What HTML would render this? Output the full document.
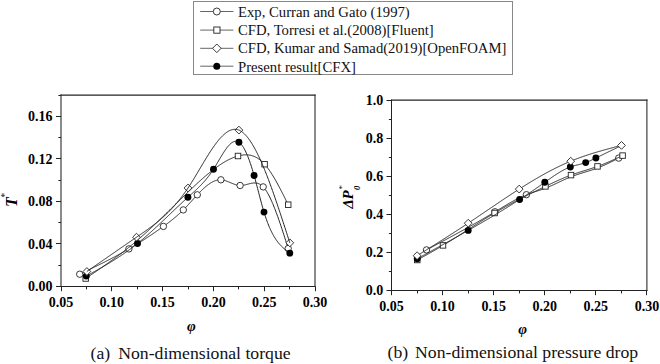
<!DOCTYPE html>
<html><head><meta charset="utf-8"><style>
html,body{margin:0;padding:0;background:#fff;width:660px;height:364px;overflow:hidden}
svg{display:block}
text{font-family:"Liberation Serif",serif}
</style></head><body>
<svg width="660" height="364" viewBox="0 0 660 364">
<rect width="660" height="364" fill="#fff"/>
<rect x="193.5" y="1.5" width="319" height="73" fill="#fff" stroke="#888" stroke-width="1"/>
<line x1="200.2" y1="11.5" x2="233.4" y2="11.5" stroke="#555" stroke-width="0.9"/>
<text x="238" y="16.6" font-family="Liberation Serif" font-size="14.7" fill="#111">Exp, Curran and Gato (1997)</text>
<line x1="200.2" y1="30.1" x2="233.4" y2="30.1" stroke="#555" stroke-width="0.9"/>
<text x="238" y="34.8" font-family="Liberation Serif" font-size="14.7" fill="#111">CFD, Torresi et al.(2008)[Fluent]</text>
<line x1="200.2" y1="48.3" x2="233.4" y2="48.3" stroke="#555" stroke-width="0.9"/>
<text x="238" y="53.4" font-family="Liberation Serif" font-size="14.7" fill="#111">CFD, Kumar and Samad(2019)[OpenFOAM]</text>
<line x1="200.2" y1="66.2" x2="233.4" y2="66.2" stroke="#555" stroke-width="0.9"/>
<text x="238" y="71.9" font-family="Liberation Serif" font-size="14.7" fill="#111">Present result[CFX]</text>
<circle cx="216.8" cy="11.5" r="3.5" fill="#fff" stroke="#222" stroke-width="0.9"/>
<rect x="213.80" y="27.00" width="6.20" height="6.20" fill="#fff" stroke="#222" stroke-width="0.9"/>
<path d="M216.80 44.00L221.10 48.30L216.80 52.60L212.50 48.30Z" fill="#fff" stroke="#222" stroke-width="0.9"/>
<circle cx="216.8" cy="66.2" r="3.5" fill="#000"/>
<line x1="61.0" y1="94.6" x2="61.0" y2="287.0" stroke="#222" stroke-width="1.05" fill="none"/>
<line x1="315.0" y1="94.6" x2="315.0" y2="287.0" stroke="#222" stroke-width="1.05" fill="none"/>
<line x1="60.5" y1="95.1" x2="315.5" y2="95.1" stroke="#222" stroke-width="1.05" fill="none"/>
<line x1="60.5" y1="286.5" x2="315.5" y2="286.5" stroke="#222" stroke-width="1.05" fill="none"/>
<line x1="61.50" y1="286.5" x2="61.50" y2="291.2" stroke="#222" stroke-width="1"/>
<text x="61.00" y="306.5" text-anchor="middle" font-family="Liberation Serif" font-weight="bold" font-size="14" fill="#000">0.05</text>
<line x1="111.50" y1="286.5" x2="111.50" y2="291.2" stroke="#222" stroke-width="1"/>
<text x="111.80" y="306.5" text-anchor="middle" font-family="Liberation Serif" font-weight="bold" font-size="14" fill="#000">0.10</text>
<line x1="162.50" y1="286.5" x2="162.50" y2="291.2" stroke="#222" stroke-width="1"/>
<text x="162.60" y="306.5" text-anchor="middle" font-family="Liberation Serif" font-weight="bold" font-size="14" fill="#000">0.15</text>
<line x1="213.50" y1="286.5" x2="213.50" y2="291.2" stroke="#222" stroke-width="1"/>
<text x="213.40" y="306.5" text-anchor="middle" font-family="Liberation Serif" font-weight="bold" font-size="14" fill="#000">0.20</text>
<line x1="264.50" y1="286.5" x2="264.50" y2="291.2" stroke="#222" stroke-width="1"/>
<text x="264.20" y="306.5" text-anchor="middle" font-family="Liberation Serif" font-weight="bold" font-size="14" fill="#000">0.25</text>
<line x1="315.50" y1="286.5" x2="315.50" y2="291.2" stroke="#222" stroke-width="1"/>
<text x="315.00" y="306.5" text-anchor="middle" font-family="Liberation Serif" font-weight="bold" font-size="14" fill="#000">0.30</text>
<line x1="86.50" y1="286.5" x2="86.50" y2="289.4" stroke="#222" stroke-width="1"/>
<line x1="137.50" y1="286.5" x2="137.50" y2="289.4" stroke="#222" stroke-width="1"/>
<line x1="188.50" y1="286.5" x2="188.50" y2="289.4" stroke="#222" stroke-width="1"/>
<line x1="238.50" y1="286.5" x2="238.50" y2="289.4" stroke="#222" stroke-width="1"/>
<line x1="289.50" y1="286.5" x2="289.50" y2="289.4" stroke="#222" stroke-width="1"/>
<line x1="56.0" y1="286.50" x2="61.0" y2="286.50" stroke="#222" stroke-width="1"/>
<text x="52.5" y="291.30" text-anchor="end" font-family="Liberation Serif" font-weight="bold" font-size="14" fill="#000">0.00</text>
<line x1="56.0" y1="243.50" x2="61.0" y2="243.50" stroke="#222" stroke-width="1"/>
<text x="52.5" y="248.77" text-anchor="end" font-family="Liberation Serif" font-weight="bold" font-size="14" fill="#000">0.04</text>
<line x1="56.0" y1="201.50" x2="61.0" y2="201.50" stroke="#222" stroke-width="1"/>
<text x="52.5" y="206.23" text-anchor="end" font-family="Liberation Serif" font-weight="bold" font-size="14" fill="#000">0.08</text>
<line x1="56.0" y1="158.50" x2="61.0" y2="158.50" stroke="#222" stroke-width="1"/>
<text x="52.5" y="163.70" text-anchor="end" font-family="Liberation Serif" font-weight="bold" font-size="14" fill="#000">0.12</text>
<line x1="56.0" y1="116.50" x2="61.0" y2="116.50" stroke="#222" stroke-width="1"/>
<text x="52.5" y="121.17" text-anchor="end" font-family="Liberation Serif" font-weight="bold" font-size="14" fill="#000">0.16</text>
<line x1="58.4" y1="265.50" x2="61.0" y2="265.50" stroke="#222" stroke-width="1"/>
<line x1="58.4" y1="222.50" x2="61.0" y2="222.50" stroke="#222" stroke-width="1"/>
<line x1="58.4" y1="180.50" x2="61.0" y2="180.50" stroke="#222" stroke-width="1"/>
<line x1="58.4" y1="137.50" x2="61.0" y2="137.50" stroke="#222" stroke-width="1"/>
<line x1="58.4" y1="95.50" x2="61.0" y2="95.50" stroke="#222" stroke-width="1"/>
<line x1="391.5" y1="99.6" x2="391.5" y2="291.0" stroke="#222" stroke-width="1.05" fill="none"/>
<line x1="646.9" y1="99.6" x2="646.9" y2="291.0" stroke="#222" stroke-width="1.05" fill="none"/>
<line x1="391.0" y1="100.1" x2="647.4" y2="100.1" stroke="#222" stroke-width="1.05" fill="none"/>
<line x1="391.0" y1="290.5" x2="647.4" y2="290.5" stroke="#222" stroke-width="1.05" fill="none"/>
<line x1="391.50" y1="290.5" x2="391.50" y2="295.2" stroke="#222" stroke-width="1"/>
<text x="391.50" y="310.5" text-anchor="middle" font-family="Liberation Serif" font-weight="bold" font-size="14" fill="#000">0.05</text>
<line x1="442.50" y1="290.5" x2="442.50" y2="295.2" stroke="#222" stroke-width="1"/>
<text x="442.58" y="310.5" text-anchor="middle" font-family="Liberation Serif" font-weight="bold" font-size="14" fill="#000">0.10</text>
<line x1="493.50" y1="290.5" x2="493.50" y2="295.2" stroke="#222" stroke-width="1"/>
<text x="493.66" y="310.5" text-anchor="middle" font-family="Liberation Serif" font-weight="bold" font-size="14" fill="#000">0.15</text>
<line x1="544.50" y1="290.5" x2="544.50" y2="295.2" stroke="#222" stroke-width="1"/>
<text x="544.74" y="310.5" text-anchor="middle" font-family="Liberation Serif" font-weight="bold" font-size="14" fill="#000">0.20</text>
<line x1="595.50" y1="290.5" x2="595.50" y2="295.2" stroke="#222" stroke-width="1"/>
<text x="595.82" y="310.5" text-anchor="middle" font-family="Liberation Serif" font-weight="bold" font-size="14" fill="#000">0.25</text>
<line x1="646.50" y1="290.5" x2="646.50" y2="295.2" stroke="#222" stroke-width="1"/>
<text x="646.90" y="310.5" text-anchor="middle" font-family="Liberation Serif" font-weight="bold" font-size="14" fill="#000">0.30</text>
<line x1="417.50" y1="290.5" x2="417.50" y2="293.4" stroke="#222" stroke-width="1"/>
<line x1="468.50" y1="290.5" x2="468.50" y2="293.4" stroke="#222" stroke-width="1"/>
<line x1="519.50" y1="290.5" x2="519.50" y2="293.4" stroke="#222" stroke-width="1"/>
<line x1="570.50" y1="290.5" x2="570.50" y2="293.4" stroke="#222" stroke-width="1"/>
<line x1="621.50" y1="290.5" x2="621.50" y2="293.4" stroke="#222" stroke-width="1"/>
<line x1="386.5" y1="290.50" x2="391.5" y2="290.50" stroke="#222" stroke-width="1"/>
<text x="383.2" y="295.30" text-anchor="end" font-family="Liberation Serif" font-weight="bold" font-size="14" fill="#000">0.0</text>
<line x1="386.5" y1="252.50" x2="391.5" y2="252.50" stroke="#222" stroke-width="1"/>
<text x="383.2" y="257.22" text-anchor="end" font-family="Liberation Serif" font-weight="bold" font-size="14" fill="#000">0.2</text>
<line x1="386.5" y1="214.50" x2="391.5" y2="214.50" stroke="#222" stroke-width="1"/>
<text x="383.2" y="219.14" text-anchor="end" font-family="Liberation Serif" font-weight="bold" font-size="14" fill="#000">0.4</text>
<line x1="386.5" y1="176.50" x2="391.5" y2="176.50" stroke="#222" stroke-width="1"/>
<text x="383.2" y="181.06" text-anchor="end" font-family="Liberation Serif" font-weight="bold" font-size="14" fill="#000">0.6</text>
<line x1="386.5" y1="138.50" x2="391.5" y2="138.50" stroke="#222" stroke-width="1"/>
<text x="383.2" y="142.98" text-anchor="end" font-family="Liberation Serif" font-weight="bold" font-size="14" fill="#000">0.8</text>
<line x1="386.5" y1="100.50" x2="391.5" y2="100.50" stroke="#222" stroke-width="1"/>
<text x="383.2" y="104.90" text-anchor="end" font-family="Liberation Serif" font-weight="bold" font-size="14" fill="#000">1.0</text>
<line x1="388.9" y1="271.50" x2="391.5" y2="271.50" stroke="#222" stroke-width="1"/>
<line x1="388.9" y1="233.50" x2="391.5" y2="233.50" stroke="#222" stroke-width="1"/>
<line x1="388.9" y1="195.50" x2="391.5" y2="195.50" stroke="#222" stroke-width="1"/>
<line x1="388.9" y1="157.50" x2="391.5" y2="157.50" stroke="#222" stroke-width="1"/>
<line x1="388.9" y1="119.50" x2="391.5" y2="119.50" stroke="#222" stroke-width="1"/>
<path d="M79.70 274.20L80.20 273.96L80.70 273.72L81.20 273.48L81.70 273.24L82.20 273.00L82.70 272.76L83.20 272.52L83.70 272.28L84.20 272.04L84.70 271.80L85.20 271.55L85.70 271.31L86.20 271.07L86.70 270.83L87.20 270.59L87.70 270.35L88.20 270.11L88.70 269.86L89.20 269.62L89.70 269.38L90.20 269.14L90.70 268.90L91.20 268.65L91.70 268.41L92.20 268.17L92.70 267.92L93.20 267.68L93.70 267.43L94.20 267.19L94.70 266.94L95.20 266.70L95.70 266.45L96.20 266.21L96.70 265.96L97.20 265.72L97.70 265.47L98.20 265.22L98.70 264.97L99.20 264.73L99.70 264.48L100.20 264.23L100.70 263.98L101.20 263.73L101.70 263.48L102.20 263.23L102.70 262.98L103.20 262.73L103.70 262.47L104.20 262.22L104.70 261.97L105.20 261.71L105.70 261.46L106.20 261.21L106.70 260.95L107.20 260.70L107.70 260.44L108.20 260.18L108.70 259.92L109.20 259.67L109.70 259.41L110.20 259.15L110.70 258.89L111.20 258.63L111.70 258.37L112.20 258.10L112.70 257.84L113.20 257.58L113.70 257.31L114.20 257.05L114.70 256.78L115.20 256.52L115.70 256.25L116.20 255.98L116.70 255.71L117.20 255.45L117.70 255.18L118.20 254.90L118.70 254.63L119.20 254.36L119.70 254.09L120.20 253.81L120.70 253.54L121.20 253.26L121.70 252.99L122.20 252.71L122.70 252.43L123.20 252.15L123.70 251.87L124.20 251.59L124.70 251.31L125.20 251.02L125.70 250.74L126.20 250.46L126.70 250.17L127.20 249.88L127.70 249.59L128.20 249.31L128.70 249.02L128.90 248.90L129.40 248.61L129.90 248.32L130.40 248.02L130.90 247.73L131.40 247.43L131.90 247.14L132.40 246.84L132.90 246.54L133.40 246.24L133.90 245.94L134.40 245.64L134.90 245.34L135.40 245.03L135.90 244.73L136.40 244.42L136.90 244.12L137.40 243.81L137.90 243.50L138.40 243.19L138.90 242.88L139.40 242.57L139.90 242.26L140.40 241.94L140.90 241.63L141.40 241.31L141.90 240.99L142.40 240.68L142.90 240.36L143.40 240.04L143.90 239.72L144.40 239.39L144.90 239.07L145.40 238.75L145.90 238.42L146.40 238.10L146.90 237.77L147.40 237.44L147.90 237.11L148.40 236.78L148.90 236.45L149.40 236.12L149.90 235.78L150.40 235.45L150.90 235.11L151.40 234.78L151.90 234.44L152.40 234.10L152.90 233.76L153.40 233.42L153.90 233.08L154.40 232.74L154.90 232.40L155.40 232.05L155.90 231.71L156.40 231.36L156.90 231.01L157.40 230.66L157.90 230.31L158.40 229.96L158.90 229.61L159.40 229.26L159.90 228.90L160.40 228.55L160.90 228.19L161.40 227.84L161.90 227.48L162.40 227.12L162.90 226.76L163.40 226.40L163.90 226.04L164.40 225.68L164.90 225.31L165.40 224.95L165.90 224.58L166.40 224.21L166.90 223.84L167.40 223.47L167.90 223.09L168.40 222.71L168.90 222.34L169.40 221.95L169.90 221.57L170.40 221.18L170.90 220.80L171.40 220.40L171.90 220.01L172.40 219.61L172.90 219.21L173.40 218.80L173.90 218.39L174.40 217.98L174.90 217.57L175.40 217.15L175.90 216.72L176.40 216.30L176.90 215.86L177.40 215.43L177.90 214.99L178.40 214.54L178.90 214.09L179.40 213.63L179.90 213.17L180.40 212.71L180.90 212.24L181.40 211.76L181.90 211.28L182.40 210.79L182.90 210.30L183.30 209.90L183.80 209.40L184.30 208.89L184.80 208.37L185.30 207.85L185.80 207.33L186.30 206.80L186.80 206.27L187.30 205.73L187.80 205.19L188.30 204.65L188.80 204.11L189.30 203.56L189.80 203.01L190.30 202.46L190.80 201.91L191.30 201.36L191.80 200.81L192.30 200.25L192.80 199.70L193.30 199.15L193.80 198.60L194.30 198.05L194.80 197.50L195.30 196.96L195.80 196.41L196.30 195.87L196.80 195.33L197.30 194.80L197.80 194.27L198.30 193.74L198.80 193.22L199.30 192.70L199.80 192.19L200.30 191.68L200.80 191.18L201.30 190.69L201.80 190.20L202.30 189.72L202.80 189.24L203.30 188.78L203.80 188.32L204.30 187.87L204.80 187.42L205.30 186.99L205.80 186.56L206.30 186.15L206.80 185.74L207.30 185.35L207.80 184.96L208.30 184.59L208.80 184.23L209.30 183.88L209.80 183.54L210.30 183.21L210.80 182.90L211.30 182.60L211.80 182.31L212.30 182.04L212.80 181.78L213.30 181.53L213.80 181.30L214.30 181.08L214.80 180.88L215.30 180.70L215.80 180.53L216.30 180.38L216.80 180.24L217.30 180.12L217.80 180.02L218.30 179.94L218.80 179.87L219.30 179.82L219.80 179.79L220.30 179.79L220.80 179.80L220.90 179.80L221.40 179.83L221.90 179.89L222.40 179.96L222.90 180.04L223.40 180.15L223.90 180.26L224.40 180.39L224.90 180.54L225.40 180.69L225.90 180.86L226.40 181.03L226.90 181.22L227.40 181.41L227.90 181.60L228.40 181.80L228.90 182.01L229.40 182.22L229.90 182.43L230.40 182.64L230.90 182.86L231.40 183.07L231.90 183.28L232.40 183.48L232.90 183.69L233.40 183.88L233.90 184.07L234.40 184.26L234.90 184.43L235.40 184.60L235.90 184.75L236.40 184.90L236.90 185.03L237.40 185.14L237.90 185.25L238.40 185.33L238.90 185.41L239.40 185.46L239.90 185.49L240.10 185.50L240.60 185.51L241.10 185.49L241.60 185.46L242.10 185.42L242.60 185.36L243.10 185.28L243.60 185.19L244.10 185.10L244.60 184.99L245.10 184.88L245.60 184.75L246.10 184.63L246.60 184.50L247.10 184.36L247.60 184.23L248.10 184.09L248.60 183.96L249.10 183.83L249.60 183.70L250.10 183.58L250.60 183.47L251.10 183.36L251.60 183.26L252.10 183.18L252.60 183.10L253.10 183.04L253.60 183.00L254.10 182.97L254.60 182.96L255.10 182.97L255.60 183.00L256.10 183.05L256.60 183.12L257.10 183.22L257.60 183.34L258.10 183.49L258.60 183.67L259.10 183.88L259.60 184.12L260.10 184.40L260.60 184.70L261.10 185.05L261.60 185.43L262.10 185.84L262.60 186.30L263.10 186.80L263.20 186.90L263.70 187.45L264.20 188.04L264.70 188.67L265.20 189.34L265.70 190.04L266.20 190.79L266.70 191.57L267.20 192.39L267.70 193.25L268.20 194.14L268.70 195.06L269.20 196.02L269.70 197.01L270.20 198.03L270.70 199.08L271.20 200.16L271.70 201.27L272.20 202.41L272.70 203.57L273.20 204.77L273.70 205.98L274.20 207.22L274.70 208.49L275.20 209.78L275.70 211.08L276.20 212.42L276.70 213.77L277.20 215.14L277.70 216.53L278.20 217.93L278.70 219.36L279.20 220.80L279.70 222.25L280.20 223.72L280.70 225.20L281.20 226.70L281.70 228.21L282.20 229.73L282.70 231.25L283.20 232.79L283.70 234.34L284.20 235.89L284.70 237.45L285.20 239.02L285.70 240.59L286.20 242.17L286.70 243.75L287.20 245.33L287.70 246.92L288.20 248.50" stroke="#222" stroke-width="1" fill="none"/>
<circle cx="79.7" cy="274.2" r="3.2" fill="#fff" stroke="#222" stroke-width="0.9"/>
<circle cx="128.9" cy="248.9" r="3.2" fill="#fff" stroke="#222" stroke-width="0.9"/>
<circle cx="163.4" cy="226.4" r="3.2" fill="#fff" stroke="#222" stroke-width="0.9"/>
<circle cx="183.3" cy="209.9" r="3.2" fill="#fff" stroke="#222" stroke-width="0.9"/>
<circle cx="197.3" cy="194.8" r="3.2" fill="#fff" stroke="#222" stroke-width="0.9"/>
<circle cx="220.9" cy="179.8" r="3.2" fill="#fff" stroke="#222" stroke-width="0.9"/>
<circle cx="240.1" cy="185.5" r="3.2" fill="#fff" stroke="#222" stroke-width="0.9"/>
<circle cx="263.2" cy="186.9" r="3.2" fill="#fff" stroke="#222" stroke-width="0.9"/>
<circle cx="288.2" cy="248.5" r="3.2" fill="#fff" stroke="#222" stroke-width="0.9"/>
<path d="M85.70 278.50L86.20 278.16L86.70 277.82L87.20 277.48L87.70 277.14L88.20 276.80L88.70 276.46L89.20 276.12L89.70 275.78L90.20 275.44L90.70 275.10L91.20 274.76L91.70 274.41L92.20 274.07L92.70 273.73L93.20 273.39L93.70 273.05L94.20 272.71L94.70 272.36L95.20 272.02L95.70 271.68L96.20 271.33L96.70 270.99L97.20 270.65L97.70 270.30L98.20 269.96L98.70 269.61L99.20 269.26L99.70 268.92L100.20 268.57L100.70 268.22L101.20 267.88L101.70 267.53L102.20 267.18L102.70 266.83L103.20 266.48L103.70 266.13L104.20 265.78L104.70 265.43L105.20 265.07L105.70 264.72L106.20 264.37L106.70 264.01L107.20 263.66L107.70 263.30L108.20 262.94L108.70 262.59L109.20 262.23L109.70 261.87L110.20 261.51L110.70 261.15L111.20 260.79L111.70 260.43L112.20 260.06L112.70 259.70L113.20 259.33L113.70 258.97L114.20 258.60L114.70 258.23L115.20 257.86L115.70 257.50L116.20 257.12L116.70 256.75L117.20 256.38L117.70 256.01L118.20 255.63L118.70 255.26L119.20 254.88L119.70 254.50L120.20 254.12L120.70 253.74L121.20 253.36L121.70 252.98L122.20 252.59L122.70 252.21L123.20 251.82L123.70 251.43L124.20 251.04L124.70 250.65L125.20 250.26L125.70 249.87L126.20 249.47L126.70 249.08L127.20 248.68L127.70 248.28L128.20 247.88L128.70 247.48L129.20 247.08L129.70 246.68L130.20 246.27L130.70 245.86L131.20 245.45L131.70 245.04L132.20 244.63L132.70 244.22L133.20 243.81L133.70 243.39L134.20 242.97L134.70 242.55L135.20 242.13L135.70 241.71L136.20 241.28L136.70 240.86L137.00 240.60L137.50 240.17L138.00 239.74L138.50 239.31L139.00 238.87L139.50 238.44L140.00 238.00L140.50 237.56L141.00 237.12L141.50 236.68L142.00 236.24L142.50 235.79L143.00 235.35L143.50 234.90L144.00 234.45L144.50 234.00L145.00 233.55L145.50 233.09L146.00 232.64L146.50 232.18L147.00 231.73L147.50 231.27L148.00 230.81L148.50 230.35L149.00 229.88L149.50 229.42L150.00 228.96L150.50 228.49L151.00 228.03L151.50 227.56L152.00 227.09L152.50 226.62L153.00 226.15L153.50 225.68L154.00 225.20L154.50 224.73L155.00 224.26L155.50 223.78L156.00 223.31L156.50 222.83L157.00 222.35L157.50 221.87L158.00 221.39L158.50 220.91L159.00 220.43L159.50 219.95L160.00 219.47L160.50 218.99L161.00 218.50L161.50 218.02L162.00 217.53L162.50 217.05L163.00 216.56L163.50 216.08L164.00 215.59L164.50 215.10L165.00 214.62L165.50 214.13L166.00 213.64L166.50 213.15L167.00 212.66L167.50 212.17L168.00 211.68L168.50 211.19L169.00 210.70L169.50 210.21L170.00 209.72L170.50 209.23L171.00 208.74L171.50 208.25L172.00 207.76L172.50 207.27L173.00 206.77L173.50 206.28L174.00 205.79L174.50 205.30L175.00 204.81L175.50 204.32L176.00 203.83L176.50 203.33L177.00 202.84L177.50 202.35L178.00 201.86L178.50 201.37L179.00 200.88L179.50 200.39L180.00 199.90L180.50 199.41L181.00 198.92L181.50 198.43L182.00 197.94L182.50 197.46L183.00 196.97L183.50 196.48L184.00 195.99L184.50 195.51L185.00 195.02L185.50 194.54L186.00 194.05L186.50 193.57L187.00 193.08L187.50 192.60L188.00 192.12L188.50 191.64L189.00 191.15L189.50 190.67L190.00 190.19L190.50 189.72L191.00 189.24L191.50 188.76L192.00 188.29L192.50 187.81L193.00 187.34L193.50 186.87L194.00 186.39L194.50 185.92L195.00 185.46L195.50 184.99L196.00 184.52L196.50 184.06L197.00 183.60L197.50 183.14L198.00 182.68L198.50 182.22L199.00 181.76L199.50 181.31L200.00 180.85L200.50 180.40L201.00 179.96L201.50 179.51L202.00 179.06L202.50 178.62L203.00 178.18L203.50 177.74L204.00 177.31L204.50 176.87L205.00 176.44L205.50 176.01L206.00 175.58L206.50 175.16L207.00 174.74L207.50 174.32L208.00 173.90L208.50 173.49L209.00 173.07L209.50 172.67L210.00 172.26L210.50 171.86L211.00 171.46L211.50 171.06L212.00 170.66L212.50 170.27L213.00 169.89L213.50 169.50L214.00 169.12L214.50 168.74L215.00 168.36L215.50 167.99L216.00 167.62L216.50 167.26L217.00 166.90L217.50 166.54L218.00 166.19L218.50 165.84L219.00 165.49L219.50 165.15L220.00 164.81L220.50 164.48L221.00 164.15L221.50 163.82L222.00 163.50L222.50 163.19L223.00 162.87L223.50 162.57L224.00 162.26L224.50 161.97L225.00 161.67L225.50 161.39L226.00 161.10L226.50 160.83L227.00 160.55L227.50 160.29L228.00 160.02L228.50 159.77L229.00 159.51L229.50 159.27L230.00 159.03L230.50 158.79L231.00 158.56L231.50 158.34L232.00 158.12L232.50 157.91L233.00 157.71L233.50 157.51L234.00 157.31L234.50 157.13L235.00 156.95L235.50 156.77L236.00 156.60L236.50 156.44L237.00 156.29L237.50 156.14L238.00 156.00L238.50 155.87L239.00 155.74L239.50 155.62L240.00 155.51L240.50 155.40L241.00 155.31L241.50 155.22L242.00 155.14L242.50 155.07L243.00 155.00L243.50 154.95L244.00 154.91L244.50 154.87L245.00 154.85L245.50 154.84L246.00 154.83L246.50 154.84L247.00 154.86L247.50 154.89L248.00 154.93L248.50 154.98L249.00 155.04L249.50 155.12L250.00 155.20L250.50 155.30L251.00 155.42L251.50 155.54L252.00 155.68L252.50 155.83L253.00 156.00L253.50 156.18L254.00 156.37L254.50 156.58L255.00 156.80L255.50 157.04L256.00 157.29L256.50 157.56L257.00 157.84L257.50 158.14L258.00 158.45L258.50 158.78L259.00 159.13L259.50 159.49L260.00 159.87L260.50 160.27L261.00 160.68L261.50 161.12L262.00 161.56L262.50 162.03L263.00 162.52L263.50 163.02L264.00 163.55L264.50 164.09L264.60 164.20L265.10 164.77L265.60 165.35L266.10 165.95L266.60 166.57L267.10 167.21L267.60 167.87L268.10 168.54L268.60 169.23L269.10 169.93L269.60 170.65L270.10 171.38L270.60 172.13L271.10 172.90L271.60 173.68L272.10 174.47L272.60 175.27L273.10 176.09L273.60 176.92L274.10 177.76L274.60 178.61L275.10 179.48L275.60 180.35L276.10 181.24L276.60 182.13L277.10 183.04L277.60 183.95L278.10 184.87L278.60 185.80L279.10 186.74L279.60 187.69L280.10 188.64L280.60 189.60L281.10 190.56L281.60 191.53L282.10 192.51L282.60 193.49L283.10 194.48L283.60 195.47L284.10 196.46L284.60 197.46L285.10 198.46L285.60 199.46L286.10 200.47L286.60 201.47L287.10 202.48L287.60 203.49L288.10 204.50L288.20 204.70" stroke="#222" stroke-width="1" fill="none"/>
<rect x="82.95" y="275.75" width="5.50" height="5.50" fill="#fff" stroke="#222" stroke-width="0.9"/>
<rect x="235.25" y="153.25" width="5.50" height="5.50" fill="#fff" stroke="#222" stroke-width="0.9"/>
<rect x="261.85" y="161.45" width="5.50" height="5.50" fill="#fff" stroke="#222" stroke-width="0.9"/>
<rect x="285.45" y="201.95" width="5.50" height="5.50" fill="#fff" stroke="#222" stroke-width="0.9"/>
<path d="M86.30 276.10L86.80 275.82L87.30 275.55L87.80 275.27L88.30 274.99L88.80 274.71L89.30 274.44L89.80 274.16L90.30 273.88L90.80 273.60L91.30 273.32L91.80 273.05L92.30 272.77L92.80 272.49L93.30 272.21L93.80 271.93L94.30 271.65L94.80 271.37L95.30 271.09L95.80 270.81L96.30 270.53L96.80 270.24L97.30 269.96L97.80 269.68L98.30 269.39L98.80 269.11L99.30 268.82L99.80 268.54L100.30 268.25L100.80 267.97L101.30 267.68L101.80 267.39L102.30 267.10L102.80 266.81L103.30 266.52L103.80 266.23L104.30 265.94L104.80 265.65L105.30 265.35L105.80 265.06L106.30 264.76L106.80 264.47L107.30 264.17L107.80 263.87L108.30 263.57L108.80 263.27L109.30 262.97L109.80 262.67L110.30 262.36L110.80 262.06L111.30 261.75L111.80 261.44L112.30 261.14L112.80 260.83L113.30 260.51L113.80 260.20L114.30 259.89L114.80 259.57L115.30 259.26L115.80 258.94L116.30 258.62L116.80 258.30L117.30 257.98L117.80 257.66L118.30 257.33L118.80 257.01L119.30 256.68L119.80 256.35L120.30 256.02L120.80 255.69L121.30 255.35L121.80 255.02L122.30 254.68L122.80 254.34L123.30 254.00L123.80 253.66L124.30 253.31L124.80 252.97L125.30 252.62L125.80 252.27L126.30 251.92L126.80 251.56L127.30 251.21L127.80 250.85L128.30 250.49L128.80 250.13L129.30 249.77L129.80 249.40L130.30 249.03L130.80 248.66L131.30 248.29L131.80 247.92L132.30 247.54L132.80 247.16L133.30 246.78L133.80 246.40L134.30 246.02L134.80 245.63L135.30 245.24L135.80 244.85L136.30 244.45L136.80 244.06L137.30 243.66L137.50 243.50L138.00 243.10L138.50 242.69L139.00 242.29L139.50 241.88L140.00 241.47L140.50 241.05L141.00 240.64L141.50 240.22L142.00 239.80L142.50 239.38L143.00 238.95L143.50 238.53L144.00 238.10L144.50 237.67L145.00 237.24L145.50 236.80L146.00 236.37L146.50 235.93L147.00 235.49L147.50 235.05L148.00 234.61L148.50 234.17L149.00 233.72L149.50 233.27L150.00 232.83L150.50 232.38L151.00 231.92L151.50 231.47L152.00 231.02L152.50 230.56L153.00 230.10L153.50 229.65L154.00 229.19L154.50 228.73L155.00 228.27L155.50 227.80L156.00 227.34L156.50 226.87L157.00 226.41L157.50 225.94L158.00 225.47L158.50 225.01L159.00 224.54L159.50 224.07L160.00 223.60L160.50 223.12L161.00 222.65L161.50 222.18L162.00 221.71L162.50 221.23L163.00 220.76L163.50 220.28L164.00 219.81L164.50 219.33L165.00 218.86L165.50 218.38L166.00 217.90L166.50 217.43L167.00 216.95L167.50 216.47L168.00 215.99L168.50 215.52L169.00 215.04L169.50 214.56L170.00 214.08L170.50 213.61L171.00 213.13L171.50 212.65L172.00 212.17L172.50 211.70L173.00 211.22L173.50 210.74L174.00 210.27L174.50 209.79L175.00 209.31L175.50 208.84L176.00 208.36L176.50 207.89L177.00 207.42L177.50 206.94L178.00 206.47L178.50 206.00L179.00 205.53L179.50 205.06L180.00 204.59L180.50 204.12L181.00 203.65L181.50 203.18L182.00 202.72L182.50 202.25L183.00 201.79L183.50 201.33L184.00 200.86L184.50 200.40L185.00 199.94L185.50 199.48L186.00 199.03L186.50 198.57L187.00 198.12L187.50 197.66L187.90 197.30L188.40 196.85L188.90 196.40L189.40 195.95L189.90 195.50L190.40 195.05L190.90 194.60L191.40 194.15L191.90 193.70L192.40 193.25L192.90 192.80L193.40 192.35L193.90 191.89L194.40 191.43L194.90 190.97L195.40 190.51L195.90 190.04L196.40 189.57L196.90 189.10L197.40 188.62L197.90 188.14L198.40 187.65L198.90 187.16L199.40 186.66L199.90 186.16L200.40 185.65L200.90 185.14L201.40 184.61L201.90 184.09L202.40 183.55L202.90 183.01L203.40 182.46L203.90 181.90L204.40 181.33L204.90 180.76L205.40 180.17L205.90 179.58L206.40 178.97L206.90 178.36L207.40 177.74L207.90 177.10L208.40 176.46L208.90 175.80L209.40 175.14L209.90 174.46L210.40 173.77L210.90 173.07L211.40 172.35L211.90 171.62L212.40 170.88L212.90 170.12L213.40 169.36L213.50 169.20L214.00 168.41L214.50 167.62L215.00 166.81L215.50 165.99L216.00 165.16L216.50 164.32L217.00 163.48L217.50 162.64L218.00 161.79L218.50 160.94L219.00 160.09L219.50 159.24L220.00 158.40L220.50 157.55L221.00 156.72L221.50 155.89L222.00 155.07L222.50 154.26L223.00 153.46L223.50 152.67L224.00 151.90L224.50 151.14L225.00 150.40L225.50 149.68L226.00 148.98L226.50 148.30L227.00 147.64L227.50 147.00L228.00 146.40L228.50 145.81L229.00 145.26L229.50 144.73L230.00 144.24L230.50 143.78L231.00 143.35L231.50 142.96L232.00 142.60L232.50 142.29L233.00 142.01L233.50 141.77L234.00 141.58L234.50 141.43L235.00 141.32L235.50 141.26L236.00 141.25L236.50 141.29L237.00 141.38L237.50 141.52L238.00 141.71L238.50 141.96L238.90 142.20L239.40 142.55L239.90 142.96L240.40 143.43L240.90 143.95L241.40 144.52L241.90 145.15L242.40 145.83L242.90 146.57L243.40 147.36L243.90 148.20L244.40 149.09L244.90 150.03L245.40 151.02L245.90 152.06L246.40 153.15L246.90 154.28L247.40 155.46L247.90 156.69L248.40 157.97L248.90 159.28L249.40 160.65L249.90 162.05L250.40 163.50L250.90 165.00L251.40 166.53L251.90 168.10L252.40 169.72L252.90 171.37L253.40 173.07L253.90 174.80L254.10 175.50L254.60 177.28L255.10 179.10L255.60 180.94L256.10 182.81L256.60 184.70L257.10 186.61L257.60 188.52L258.10 190.44L258.60 192.37L259.10 194.29L259.60 196.20L260.10 198.11L260.60 200.00L261.10 201.87L261.60 203.71L262.10 205.53L262.60 207.32L263.10 209.06L263.60 210.77L264.00 212.10L264.50 213.72L265.00 215.29L265.50 216.82L266.00 218.30L266.50 219.73L267.00 221.12L267.50 222.46L268.00 223.76L268.50 225.02L269.00 226.24L269.50 227.42L270.00 228.56L270.50 229.66L271.00 230.73L271.50 231.75L272.00 232.75L272.50 233.71L273.00 234.63L273.50 235.53L274.00 236.39L274.50 237.22L275.00 238.03L275.50 238.80L276.00 239.55L276.50 240.27L277.00 240.97L277.50 241.64L278.00 242.29L278.50 242.91L279.00 243.51L279.50 244.10L280.00 244.66L280.50 245.20L281.00 245.73L281.50 246.24L282.00 246.73L282.50 247.21L283.00 247.68L283.50 248.13L284.00 248.57L284.50 249.00L285.00 249.41L285.50 249.82L286.00 250.22L286.50 250.62L287.00 251.00L287.50 251.39L288.00 251.76L288.50 252.14L289.00 252.51L289.50 252.88L289.80 253.10" stroke="#222" stroke-width="1" fill="none"/>
<circle cx="86.3" cy="276.1" r="3.45" fill="#000"/>
<circle cx="137.5" cy="243.5" r="3.45" fill="#000"/>
<circle cx="187.9" cy="197.3" r="3.45" fill="#000"/>
<circle cx="213.5" cy="169.2" r="3.45" fill="#000"/>
<circle cx="238.9" cy="142.2" r="3.45" fill="#000"/>
<circle cx="254.1" cy="175.5" r="3.45" fill="#000"/>
<circle cx="264.0" cy="212.1" r="3.45" fill="#000"/>
<circle cx="289.8" cy="253.1" r="3.45" fill="#000"/>
<path d="M86.90 267.60L90.80 271.50L86.90 275.40L83.00 271.50Z" fill="#fff" stroke="#222" stroke-width="0.9"/>
<path d="M136.50 233.30L140.40 237.20L136.50 241.10L132.60 237.20Z" fill="#fff" stroke="#222" stroke-width="0.9"/>
<path d="M188.00 184.10L191.90 188.00L188.00 191.90L184.10 188.00Z" fill="#fff" stroke="#222" stroke-width="0.9"/>
<path d="M238.90 126.20L242.80 130.10L238.90 134.00L235.00 130.10Z" fill="#fff" stroke="#222" stroke-width="0.9"/>
<path d="M289.80 238.90L293.70 242.80L289.80 246.70L285.90 242.80Z" fill="#fff" stroke="#222" stroke-width="0.9"/>
<path d="M86.90 271.50L87.40 271.15L87.90 270.81L88.40 270.46L88.90 270.11L89.40 269.76L89.90 269.42L90.40 269.07L90.90 268.72L91.40 268.38L91.90 268.03L92.40 267.68L92.90 267.34L93.40 266.99L93.90 266.64L94.40 266.29L94.90 265.95L95.40 265.60L95.90 265.25L96.40 264.91L96.90 264.56L97.40 264.21L97.90 263.87L98.40 263.52L98.90 263.17L99.40 262.83L99.90 262.48L100.40 262.13L100.90 261.79L101.40 261.44L101.90 261.09L102.40 260.75L102.90 260.40L103.40 260.05L103.90 259.71L104.40 259.36L104.90 259.01L105.40 258.67L105.90 258.32L106.40 257.97L106.90 257.63L107.40 257.28L107.90 256.93L108.40 256.59L108.90 256.24L109.40 255.89L109.90 255.55L110.40 255.20L110.90 254.86L111.40 254.51L111.90 254.16L112.40 253.82L112.90 253.47L113.40 253.13L113.90 252.78L114.40 252.43L114.90 252.09L115.40 251.74L115.90 251.40L116.40 251.05L116.90 250.71L117.40 250.36L117.90 250.01L118.40 249.67L118.90 249.32L119.40 248.98L119.90 248.63L120.40 248.29L120.90 247.94L121.40 247.60L121.90 247.25L122.40 246.91L122.90 246.56L123.40 246.22L123.90 245.87L124.40 245.53L124.90 245.18L125.40 244.84L125.90 244.49L126.40 244.15L126.90 243.80L127.40 243.46L127.90 243.11L128.40 242.77L128.90 242.43L129.40 242.08L129.90 241.74L130.40 241.39L130.90 241.05L131.40 240.70L131.90 240.36L132.40 240.02L132.90 239.67L133.40 239.33L133.90 238.99L134.40 238.64L134.90 238.30L135.40 237.96L135.90 237.61L136.40 237.27L136.50 237.20L137.00 236.86L137.50 236.51L138.00 236.17L138.50 235.83L139.00 235.48L139.50 235.14L140.00 234.79L140.50 234.45L141.00 234.10L141.50 233.76L142.00 233.41L142.50 233.06L143.00 232.72L143.50 232.37L144.00 232.02L144.50 231.67L145.00 231.31L145.50 230.96L146.00 230.60L146.50 230.25L147.00 229.89L147.50 229.53L148.00 229.17L148.50 228.80L149.00 228.44L149.50 228.07L150.00 227.70L150.50 227.33L151.00 226.96L151.50 226.59L152.00 226.21L152.50 225.83L153.00 225.45L153.50 225.06L154.00 224.68L154.50 224.29L155.00 223.89L155.50 223.50L156.00 223.10L156.50 222.70L157.00 222.29L157.50 221.89L158.00 221.48L158.50 221.06L159.00 220.64L159.50 220.22L160.00 219.80L160.50 219.37L161.00 218.94L161.50 218.50L162.00 218.07L162.50 217.62L163.00 217.18L163.50 216.72L164.00 216.27L164.50 215.81L165.00 215.35L165.50 214.88L166.00 214.41L166.50 213.93L167.00 213.45L167.50 212.96L168.00 212.47L168.50 211.97L169.00 211.47L169.50 210.96L170.00 210.45L170.50 209.94L171.00 209.42L171.50 208.89L172.00 208.36L172.50 207.82L173.00 207.28L173.50 206.73L174.00 206.17L174.50 205.61L175.00 205.04L175.50 204.47L176.00 203.89L176.50 203.31L177.00 202.72L177.50 202.12L178.00 201.52L178.50 200.91L179.00 200.29L179.50 199.67L180.00 199.04L180.50 198.40L181.00 197.76L181.50 197.11L182.00 196.45L182.50 195.79L183.00 195.12L183.50 194.44L184.00 193.76L184.50 193.06L185.00 192.36L185.50 191.65L186.00 190.94L186.50 190.22L187.00 189.49L187.50 188.75L188.00 188.00L188.50 187.25L189.00 186.48L189.50 185.71L190.00 184.94L190.50 184.15L191.00 183.37L191.50 182.57L192.00 181.77L192.50 180.96L193.00 180.15L193.50 179.34L194.00 178.52L194.50 177.69L195.00 176.87L195.50 176.03L196.00 175.20L196.50 174.37L197.00 173.53L197.50 172.69L198.00 171.85L198.50 171.00L199.00 170.16L199.50 169.32L200.00 168.47L200.50 167.63L201.00 166.78L201.50 165.94L202.00 165.10L202.50 164.26L203.00 163.42L203.50 162.59L204.00 161.75L204.50 160.92L205.00 160.10L205.50 159.27L206.00 158.45L206.50 157.64L207.00 156.83L207.50 156.02L208.00 155.22L208.50 154.43L209.00 153.64L209.50 152.86L210.00 152.08L210.50 151.31L211.00 150.55L211.50 149.80L212.00 149.05L212.50 148.31L213.00 147.58L213.50 146.86L214.00 146.15L214.50 145.45L215.00 144.76L215.50 144.08L216.00 143.41L216.50 142.76L217.00 142.11L217.50 141.47L218.00 140.85L218.50 140.24L219.00 139.64L219.50 139.06L220.00 138.49L220.50 137.93L221.00 137.39L221.50 136.86L222.00 136.35L222.50 135.85L223.00 135.36L223.50 134.90L224.00 134.45L224.50 134.01L225.00 133.59L225.50 133.19L226.00 132.81L226.50 132.45L227.00 132.10L227.50 131.77L228.00 131.46L228.50 131.17L229.00 130.90L229.50 130.65L230.00 130.42L230.50 130.21L231.00 130.03L231.50 129.86L232.00 129.71L232.50 129.59L233.00 129.49L233.50 129.41L234.00 129.35L234.50 129.32L235.00 129.31L235.50 129.33L236.00 129.37L236.50 129.43L237.00 129.52L237.50 129.64L238.00 129.78L238.50 129.95L238.90 130.10L239.40 130.31L239.90 130.56L240.40 130.82L240.90 131.12L241.40 131.44L241.90 131.78L242.40 132.15L242.90 132.54L243.40 132.96L243.90 133.40L244.40 133.87L244.90 134.36L245.40 134.88L245.90 135.42L246.40 135.98L246.90 136.56L247.40 137.17L247.90 137.79L248.40 138.44L248.90 139.12L249.40 139.81L249.90 140.52L250.40 141.26L250.90 142.02L251.40 142.79L251.90 143.59L252.40 144.41L252.90 145.24L253.40 146.10L253.90 146.97L254.40 147.87L254.90 148.78L255.40 149.71L255.90 150.66L256.40 151.62L256.90 152.61L257.40 153.61L257.90 154.63L258.40 155.66L258.90 156.71L259.40 157.78L259.90 158.86L260.40 159.96L260.90 161.08L261.40 162.20L261.90 163.35L262.40 164.51L262.90 165.68L263.40 166.87L263.90 168.07L264.40 169.29L264.90 170.51L265.40 171.75L265.90 173.01L266.40 174.28L266.90 175.55L267.40 176.85L267.90 178.15L268.40 179.46L268.90 180.79L269.40 182.12L269.90 183.47L270.40 184.83L270.90 186.20L271.40 187.57L271.90 188.96L272.40 190.36L272.90 191.76L273.40 193.18L273.90 194.60L274.40 196.03L274.90 197.47L275.40 198.92L275.90 200.37L276.40 201.84L276.90 203.30L277.40 204.78L277.90 206.26L278.40 207.75L278.90 209.25L279.40 210.75L279.90 212.25L280.40 213.76L280.90 215.28L281.40 216.80L281.90 218.33L282.40 219.85L282.90 221.39L283.40 222.92L283.90 224.46L284.40 226.01L284.90 227.55L285.40 229.10L285.90 230.65L286.40 232.21L286.90 233.76L287.40 235.32L287.90 236.87L288.40 238.43L288.90 239.99L289.40 241.55L289.80 242.80" stroke="#222" stroke-width="1" fill="none"/>
<path d="M426.50 249.90L427.00 249.63L427.50 249.37L428.00 249.10L428.50 248.83L429.00 248.57L429.50 248.30L430.00 248.04L430.50 247.77L431.00 247.50L431.50 247.24L432.00 246.97L432.50 246.70L433.00 246.44L433.50 246.17L434.00 245.90L434.50 245.64L435.00 245.37L435.50 245.10L436.00 244.84L436.50 244.57L437.00 244.30L437.50 244.03L438.00 243.77L438.50 243.50L439.00 243.23L439.50 242.96L440.00 242.70L440.50 242.43L441.00 242.16L441.50 241.89L442.00 241.62L442.50 241.36L443.00 241.09L443.50 240.82L444.00 240.55L444.50 240.28L445.00 240.01L445.50 239.74L446.00 239.48L446.50 239.21L447.00 238.94L447.50 238.67L448.00 238.40L448.50 238.13L449.00 237.86L449.50 237.59L450.00 237.32L450.50 237.05L451.00 236.78L451.50 236.50L452.00 236.23L452.50 235.96L453.00 235.69L453.50 235.42L454.00 235.15L454.50 234.87L455.00 234.60L455.50 234.33L456.00 234.06L456.50 233.78L457.00 233.51L457.50 233.24L458.00 232.96L458.50 232.69L459.00 232.42L459.50 232.14L460.00 231.87L460.50 231.59L461.00 231.32L461.50 231.04L462.00 230.77L462.50 230.49L463.00 230.21L463.50 229.94L464.00 229.66L464.50 229.38L465.00 229.11L465.50 228.83L466.00 228.55L466.50 228.27L467.00 227.99L467.50 227.71L468.00 227.44L468.50 227.16L469.00 226.88L469.50 226.60L470.00 226.32L470.50 226.03L471.00 225.75L471.50 225.47L472.00 225.19L472.50 224.91L473.00 224.63L473.50 224.34L474.00 224.06L474.50 223.78L475.00 223.49L475.50 223.21L476.00 222.92L476.50 222.64L477.00 222.35L477.50 222.07L478.00 221.78L478.50 221.50L479.00 221.21L479.50 220.92L480.00 220.63L480.50 220.35L481.00 220.06L481.50 219.77L482.00 219.48L482.50 219.19L483.00 218.90L483.50 218.61L484.00 218.32L484.50 218.03L485.00 217.73L485.50 217.44L486.00 217.15L486.50 216.86L487.00 216.56L487.50 216.27L488.00 215.97L488.50 215.68L489.00 215.38L489.50 215.09L490.00 214.79L490.50 214.49L491.00 214.20L491.50 213.90L492.00 213.60L492.50 213.30L493.00 213.00L493.50 212.70L494.00 212.40L494.50 212.10L495.00 211.80L495.50 211.50L496.00 211.20L496.50 210.89L497.00 210.59L497.50 210.29L498.00 209.98L498.50 209.68L499.00 209.38L499.50 209.07L500.00 208.77L500.50 208.47L501.00 208.16L501.50 207.86L502.00 207.56L502.50 207.26L503.00 206.96L503.50 206.65L504.00 206.35L504.50 206.06L505.00 205.76L505.50 205.46L506.00 205.16L506.50 204.87L507.00 204.57L507.50 204.28L508.00 203.99L508.50 203.70L509.00 203.41L509.50 203.12L510.00 202.83L510.50 202.55L511.00 202.26L511.50 201.98L512.00 201.70L512.50 201.42L513.00 201.15L513.50 200.87L514.00 200.60L514.50 200.33L515.00 200.06L515.50 199.80L516.00 199.53L516.50 199.27L517.00 199.01L517.50 198.76L518.00 198.50L518.50 198.25L519.00 198.01L519.50 197.76L520.00 197.52L520.50 197.28L521.00 197.04L521.50 196.81L522.00 196.58L522.50 196.35L523.00 196.13L523.50 195.91L524.00 195.69L524.50 195.48L525.00 195.27L525.50 195.06L526.00 194.86L526.40 194.70L526.90 194.50L527.40 194.31L527.90 194.12L528.40 193.94L528.90 193.76L529.40 193.58L529.90 193.40L530.40 193.23L530.90 193.05L531.40 192.88L531.90 192.72L532.40 192.55L532.90 192.39L533.40 192.22L533.90 192.06L534.40 191.90L534.90 191.74L535.40 191.58L535.90 191.42L536.40 191.26L536.90 191.10L537.40 190.94L537.90 190.78L538.40 190.62L538.90 190.46L539.40 190.30L539.90 190.13L540.40 189.97L540.90 189.80L541.40 189.63L541.90 189.46L542.40 189.29L542.90 189.12L543.40 188.94L543.90 188.76L544.40 188.58L544.90 188.39L545.40 188.20L545.90 188.01L546.40 187.81L546.90 187.61L547.40 187.41L547.90 187.20L548.40 187.00L548.90 186.79L549.40 186.57L549.90 186.36L550.40 186.14L550.90 185.92L551.40 185.70L551.90 185.47L552.40 185.25L552.90 185.02L553.40 184.79L553.90 184.56L554.40 184.33L554.90 184.09L555.40 183.86L555.90 183.62L556.40 183.39L556.90 183.15L557.40 182.92L557.90 182.68L558.40 182.44L558.90 182.21L559.40 181.97L559.90 181.73L560.40 181.50L560.90 181.26L561.40 181.02L561.90 180.79L562.40 180.56L562.90 180.32L563.40 180.09L563.90 179.86L564.40 179.63L564.90 179.40L565.40 179.18L565.90 178.95L566.40 178.73L566.90 178.51L567.40 178.29L567.90 178.08L568.40 177.86L568.90 177.65L569.40 177.45L569.90 177.24L570.40 177.04L570.90 176.84L571.00 176.80L571.50 176.60L572.00 176.41L572.50 176.22L573.00 176.04L573.50 175.85L574.00 175.67L574.50 175.50L575.00 175.32L575.50 175.15L576.00 174.97L576.50 174.81L577.00 174.64L577.50 174.47L578.00 174.31L578.50 174.15L579.00 173.99L579.50 173.83L580.00 173.67L580.50 173.51L581.00 173.36L581.50 173.20L582.00 173.05L582.50 172.89L583.00 172.74L583.50 172.59L584.00 172.44L584.50 172.28L585.00 172.13L585.50 171.98L586.00 171.83L586.50 171.67L587.00 171.52L587.50 171.37L588.00 171.21L588.50 171.06L589.00 170.90L589.50 170.75L590.00 170.59L590.50 170.43L591.00 170.27L591.50 170.11L592.00 169.94L592.50 169.78L593.00 169.61L593.50 169.44L594.00 169.27L594.50 169.09L595.00 168.92L595.50 168.74L596.00 168.56L596.50 168.38L597.00 168.19L597.50 168.00L598.00 167.81L598.50 167.61L599.00 167.41L599.50 167.21L600.00 167.01L600.50 166.80L601.00 166.59L601.50 166.38L602.00 166.17L602.50 165.95L603.00 165.73L603.50 165.51L604.00 165.29L604.50 165.07L605.00 164.84L605.50 164.61L606.00 164.38L606.50 164.15L607.00 163.91L607.50 163.68L608.00 163.44L608.50 163.20L609.00 162.96L609.50 162.72L610.00 162.47L610.50 162.23L611.00 161.98L611.50 161.73L612.00 161.49L612.50 161.24L613.00 160.99L613.50 160.74L614.00 160.49L614.50 160.23L615.00 159.98L615.50 159.73L616.00 159.47L616.50 159.22L617.00 158.97L617.50 158.71L618.00 158.46L618.50 158.20L618.70 158.10" stroke="#222" stroke-width="1" fill="none"/>
<circle cx="426.5" cy="249.9" r="3.2" fill="#fff" stroke="#222" stroke-width="0.9"/>
<circle cx="495.0" cy="211.8" r="3.2" fill="#fff" stroke="#222" stroke-width="0.9"/>
<circle cx="526.4" cy="194.7" r="3.2" fill="#fff" stroke="#222" stroke-width="0.9"/>
<circle cx="618.7" cy="158.1" r="3.2" fill="#fff" stroke="#222" stroke-width="0.9"/>
<path d="M417.30 260.00L417.80 259.72L418.30 259.45L418.80 259.17L419.30 258.89L419.80 258.62L420.30 258.34L420.80 258.06L421.30 257.79L421.80 257.51L422.30 257.23L422.80 256.96L423.30 256.68L423.80 256.40L424.30 256.12L424.80 255.85L425.30 255.57L425.80 255.29L426.30 255.01L426.80 254.73L427.30 254.45L427.80 254.17L428.30 253.89L428.80 253.61L429.30 253.33L429.80 253.05L430.30 252.76L430.80 252.48L431.30 252.20L431.80 251.92L432.30 251.63L432.80 251.35L433.30 251.06L433.80 250.78L434.30 250.49L434.80 250.20L435.30 249.92L435.80 249.63L436.30 249.34L436.80 249.05L437.30 248.76L437.80 248.47L438.30 248.18L438.80 247.89L439.30 247.59L439.80 247.30L440.30 247.00L440.80 246.71L441.30 246.41L441.80 246.12L442.30 245.82L442.80 245.52L443.00 245.40L443.50 245.10L444.00 244.80L444.50 244.50L445.00 244.20L445.50 243.89L446.00 243.59L446.50 243.28L447.00 242.98L447.50 242.67L448.00 242.36L448.50 242.06L449.00 241.75L449.50 241.44L450.00 241.13L450.50 240.82L451.00 240.51L451.50 240.19L452.00 239.88L452.50 239.57L453.00 239.25L453.50 238.94L454.00 238.63L454.50 238.31L455.00 238.00L455.50 237.68L456.00 237.36L456.50 237.05L457.00 236.73L457.50 236.41L458.00 236.09L458.50 235.77L459.00 235.45L459.50 235.14L460.00 234.82L460.50 234.50L461.00 234.18L461.50 233.86L462.00 233.54L462.50 233.21L463.00 232.89L463.50 232.57L464.00 232.25L464.50 231.93L465.00 231.61L465.50 231.29L466.00 230.96L466.50 230.64L467.00 230.32L467.50 230.00L468.00 229.68L468.50 229.36L469.00 229.03L469.50 228.71L470.00 228.39L470.50 228.07L471.00 227.75L471.50 227.42L472.00 227.10L472.50 226.78L473.00 226.46L473.50 226.14L474.00 225.82L474.50 225.50L475.00 225.18L475.50 224.86L476.00 224.54L476.50 224.22L477.00 223.90L477.50 223.58L478.00 223.26L478.50 222.94L479.00 222.63L479.50 222.31L480.00 221.99L480.50 221.67L481.00 221.36L481.50 221.04L482.00 220.73L482.50 220.41L483.00 220.10L483.50 219.79L484.00 219.47L484.50 219.16L485.00 218.85L485.50 218.54L486.00 218.23L486.50 217.92L487.00 217.61L487.50 217.30L488.00 216.99L488.50 216.68L489.00 216.38L489.50 216.07L490.00 215.77L490.50 215.46L491.00 215.16L491.50 214.86L492.00 214.55L492.50 214.25L493.00 213.95L493.50 213.65L494.00 213.36L494.50 213.06L494.60 213.00L495.10 212.70L495.60 212.41L496.10 212.11L496.60 211.82L497.10 211.53L497.60 211.24L498.10 210.95L498.60 210.66L499.10 210.37L499.60 210.08L500.10 209.79L500.60 209.51L501.10 209.22L501.60 208.94L502.10 208.66L502.60 208.37L503.10 208.09L503.60 207.81L504.10 207.53L504.60 207.25L505.10 206.97L505.60 206.69L506.10 206.42L506.60 206.14L507.10 205.87L507.60 205.59L508.10 205.32L508.60 205.04L509.10 204.77L509.60 204.50L510.10 204.23L510.60 203.96L511.10 203.69L511.60 203.42L512.10 203.15L512.60 202.88L513.10 202.62L513.60 202.35L514.10 202.08L514.60 201.82L515.10 201.55L515.60 201.29L516.10 201.03L516.60 200.76L517.10 200.50L517.60 200.24L518.10 199.98L518.60 199.72L519.10 199.46L519.60 199.20L520.10 198.94L520.60 198.69L521.10 198.43L521.60 198.17L522.10 197.91L522.60 197.66L523.10 197.40L523.60 197.15L524.10 196.89L524.60 196.64L525.10 196.39L525.60 196.13L526.10 195.88L526.60 195.63L527.10 195.38L527.60 195.13L528.10 194.88L528.60 194.63L529.10 194.38L529.60 194.13L530.10 193.88L530.60 193.63L531.10 193.38L531.60 193.13L532.10 192.88L532.60 192.64L533.10 192.39L533.60 192.14L534.10 191.90L534.60 191.65L535.10 191.41L535.60 191.16L536.10 190.92L536.60 190.67L537.10 190.43L537.60 190.18L538.10 189.94L538.60 189.69L539.10 189.45L539.60 189.21L540.10 188.96L540.60 188.72L541.10 188.48L541.60 188.24L542.10 187.99L542.60 187.75L543.10 187.51L543.60 187.27L544.10 187.03L544.60 186.79L545.10 186.54L545.40 186.40L545.90 186.16L546.40 185.92L546.90 185.68L547.40 185.44L547.90 185.20L548.40 184.96L548.90 184.72L549.40 184.48L549.90 184.24L550.40 184.00L550.90 183.77L551.40 183.53L551.90 183.29L552.40 183.06L552.90 182.82L553.40 182.59L553.90 182.35L554.40 182.12L554.90 181.89L555.40 181.66L555.90 181.43L556.40 181.20L556.90 180.97L557.40 180.74L557.90 180.52L558.40 180.29L558.90 180.07L559.40 179.85L559.90 179.62L560.40 179.40L560.90 179.18L561.40 178.97L561.90 178.75L562.40 178.54L562.90 178.32L563.40 178.11L563.90 177.90L564.40 177.69L564.90 177.48L565.40 177.28L565.90 177.08L566.40 176.87L566.90 176.67L567.40 176.47L567.90 176.28L568.40 176.08L568.90 175.89L569.40 175.70L569.90 175.51L570.40 175.32L570.90 175.14L571.00 175.10L571.50 174.92L572.00 174.74L572.50 174.56L573.00 174.38L573.50 174.21L574.00 174.03L574.50 173.86L575.00 173.69L575.50 173.52L576.00 173.36L576.50 173.19L577.00 173.03L577.50 172.86L578.00 172.70L578.50 172.54L579.00 172.38L579.50 172.22L580.00 172.06L580.50 171.90L581.00 171.75L581.50 171.59L582.00 171.43L582.50 171.28L583.00 171.12L583.50 170.97L584.00 170.81L584.50 170.66L585.00 170.50L585.50 170.35L586.00 170.19L586.50 170.04L587.00 169.88L587.50 169.72L588.00 169.57L588.50 169.41L589.00 169.25L589.50 169.09L590.00 168.94L590.50 168.78L591.00 168.61L591.50 168.45L592.00 168.29L592.50 168.12L593.00 167.96L593.50 167.79L594.00 167.62L594.50 167.45L595.00 167.28L595.50 167.11L596.00 166.94L596.50 166.76L597.00 166.58L597.50 166.40L598.00 166.22L598.50 166.03L599.00 165.85L599.50 165.66L600.00 165.47L600.50 165.28L601.00 165.08L601.50 164.89L602.00 164.69L602.50 164.49L603.00 164.29L603.50 164.09L604.00 163.89L604.50 163.68L605.00 163.48L605.50 163.27L606.00 163.06L606.50 162.85L607.00 162.64L607.50 162.42L608.00 162.21L608.50 161.99L609.00 161.78L609.50 161.56L610.00 161.34L610.50 161.12L611.00 160.90L611.50 160.68L612.00 160.46L612.50 160.23L613.00 160.01L613.50 159.78L614.00 159.56L614.50 159.33L615.00 159.10L615.50 158.88L616.00 158.65L616.50 158.42L617.00 158.19L617.50 157.96L618.00 157.73L618.50 157.50L619.00 157.27L619.50 157.04L620.00 156.81L620.50 156.57L621.00 156.34L621.50 156.11L622.00 155.88L622.50 155.65L622.60 155.60" stroke="#222" stroke-width="1" fill="none"/>
<rect x="414.55" y="257.25" width="5.50" height="5.50" fill="#fff" stroke="#222" stroke-width="0.9"/>
<rect x="440.25" y="242.65" width="5.50" height="5.50" fill="#fff" stroke="#222" stroke-width="0.9"/>
<rect x="491.85" y="210.25" width="5.50" height="5.50" fill="#fff" stroke="#222" stroke-width="0.9"/>
<rect x="542.65" y="183.65" width="5.50" height="5.50" fill="#fff" stroke="#222" stroke-width="0.9"/>
<rect x="568.25" y="172.35" width="5.50" height="5.50" fill="#fff" stroke="#222" stroke-width="0.9"/>
<rect x="594.75" y="163.65" width="5.50" height="5.50" fill="#fff" stroke="#222" stroke-width="0.9"/>
<rect x="619.85" y="152.85" width="5.50" height="5.50" fill="#fff" stroke="#222" stroke-width="0.9"/>
<path d="M417.20 258.80L417.70 258.52L418.20 258.25L418.70 257.97L419.20 257.70L419.70 257.42L420.20 257.15L420.70 256.87L421.20 256.59L421.70 256.32L422.20 256.04L422.70 255.77L423.20 255.49L423.70 255.21L424.20 254.94L424.70 254.66L425.20 254.39L425.70 254.11L426.20 253.83L426.70 253.56L427.20 253.28L427.70 253.01L428.20 252.73L428.70 252.45L429.20 252.18L429.70 251.90L430.20 251.62L430.70 251.35L431.20 251.07L431.70 250.80L432.20 250.52L432.70 250.24L433.20 249.97L433.70 249.69L434.20 249.41L434.70 249.14L435.20 248.86L435.70 248.58L436.20 248.31L436.70 248.03L437.20 247.75L437.70 247.48L438.20 247.20L438.70 246.92L439.20 246.64L439.70 246.37L440.20 246.09L440.70 245.81L441.20 245.53L441.70 245.26L442.20 244.98L442.70 244.70L443.20 244.42L443.70 244.15L444.20 243.87L444.70 243.59L445.20 243.31L445.70 243.03L446.20 242.75L446.70 242.48L447.20 242.20L447.70 241.92L448.20 241.64L448.70 241.36L449.20 241.08L449.70 240.80L450.20 240.52L450.70 240.25L451.20 239.97L451.70 239.69L452.20 239.41L452.70 239.13L453.20 238.85L453.70 238.57L454.20 238.29L454.70 238.01L455.20 237.73L455.70 237.45L456.20 237.17L456.70 236.89L457.20 236.61L457.70 236.33L458.20 236.05L458.70 235.76L459.20 235.48L459.70 235.20L460.20 234.92L460.70 234.64L461.20 234.36L461.70 234.08L462.20 233.79L462.70 233.51L463.20 233.23L463.70 232.95L464.20 232.66L464.70 232.38L465.20 232.10L465.70 231.82L466.20 231.53L466.70 231.25L467.20 230.97L467.70 230.68L468.20 230.40L468.70 230.12L469.20 229.83L469.70 229.55L470.20 229.26L470.70 228.98L471.20 228.69L471.70 228.41L472.20 228.12L472.70 227.84L473.20 227.55L473.70 227.27L474.20 226.98L474.70 226.70L475.20 226.41L475.70 226.12L476.20 225.84L476.70 225.55L477.20 225.26L477.70 224.98L478.20 224.69L478.70 224.40L479.20 224.11L479.70 223.82L480.20 223.53L480.70 223.25L481.20 222.96L481.70 222.67L482.20 222.38L482.70 222.09L483.20 221.80L483.70 221.51L484.20 221.21L484.70 220.92L485.20 220.63L485.70 220.34L486.20 220.05L486.70 219.75L487.20 219.46L487.70 219.17L488.20 218.87L488.70 218.58L489.20 218.28L489.70 217.99L490.20 217.69L490.70 217.40L491.20 217.10L491.70 216.81L492.20 216.51L492.70 216.21L493.20 215.92L493.70 215.62L494.20 215.32L494.70 215.02L495.20 214.72L495.70 214.42L496.20 214.12L496.70 213.82L497.20 213.52L497.70 213.22L498.20 212.92L498.70 212.61L499.20 212.31L499.70 212.01L500.20 211.70L500.70 211.40L501.20 211.09L501.70 210.79L502.20 210.48L502.70 210.18L503.20 209.87L503.70 209.56L504.20 209.26L504.70 208.95L505.20 208.64L505.70 208.33L506.20 208.02L506.70 207.71L507.20 207.40L507.70 207.09L508.20 206.78L508.70 206.46L509.20 206.15L509.70 205.84L510.20 205.52L510.70 205.21L511.20 204.89L511.70 204.58L512.20 204.26L512.70 203.94L513.20 203.62L513.70 203.31L514.20 202.99L514.70 202.67L515.20 202.35L515.70 202.03L516.20 201.70L516.70 201.38L517.20 201.06L517.70 200.74L518.20 200.41L518.70 200.09L519.20 199.76L519.60 199.50L520.10 199.17L520.60 198.85L521.10 198.52L521.60 198.19L522.10 197.86L522.60 197.53L523.10 197.20L523.60 196.87L524.10 196.54L524.60 196.20L525.10 195.87L525.60 195.54L526.10 195.20L526.60 194.87L527.10 194.53L527.60 194.20L528.10 193.86L528.60 193.52L529.10 193.18L529.60 192.84L530.10 192.51L530.60 192.17L531.10 191.83L531.60 191.48L532.10 191.14L532.60 190.80L533.10 190.46L533.60 190.12L534.10 189.77L534.60 189.43L535.10 189.08L535.60 188.74L536.10 188.39L536.60 188.05L537.10 187.70L537.60 187.35L538.10 187.01L538.60 186.66L539.10 186.31L539.60 185.96L540.10 185.61L540.60 185.26L541.10 184.91L541.60 184.56L542.10 184.21L542.60 183.85L543.10 183.50L543.60 183.15L544.10 182.80L544.60 182.44L544.80 182.30L545.30 181.95L545.80 181.59L546.30 181.24L546.80 180.88L547.30 180.53L547.80 180.17L548.30 179.82L548.80 179.47L549.30 179.11L549.80 178.76L550.30 178.41L550.80 178.06L551.30 177.71L551.80 177.37L552.30 177.02L552.80 176.68L553.30 176.34L553.80 176.00L554.30 175.67L554.80 175.33L555.30 175.00L555.80 174.67L556.30 174.35L556.80 174.02L557.30 173.70L557.80 173.39L558.30 173.07L558.80 172.76L559.30 172.46L559.80 172.16L560.30 171.86L560.80 171.57L561.30 171.28L561.80 170.99L562.30 170.71L562.80 170.44L563.30 170.17L563.80 169.91L564.30 169.65L564.80 169.39L565.30 169.14L565.80 168.90L566.30 168.66L566.80 168.43L567.30 168.21L567.80 167.99L568.30 167.78L568.80 167.57L569.30 167.38L569.80 167.18L570.30 167.00L570.80 166.82L571.30 166.65L571.80 166.49L572.30 166.33L572.80 166.18L573.30 166.03L573.80 165.89L574.30 165.75L574.80 165.61L575.30 165.48L575.80 165.35L576.30 165.22L576.80 165.09L577.30 164.97L577.80 164.84L578.30 164.72L578.80 164.59L579.30 164.47L579.80 164.34L580.30 164.21L580.80 164.08L581.30 163.95L581.80 163.81L582.30 163.67L582.80 163.53L583.30 163.38L583.80 163.23L584.30 163.07L584.80 162.91L585.30 162.74L585.70 162.60L586.20 162.42L586.70 162.23L587.20 162.03L587.70 161.83L588.20 161.63L588.70 161.42L589.20 161.20L589.70 160.98L590.20 160.75L590.70 160.52L591.20 160.29L591.70 160.05L592.20 159.82L592.70 159.57L593.20 159.33L593.70 159.09L594.20 158.84L594.70 158.59L595.20 158.35L595.70 158.10L595.90 158.00L596.40 157.75L596.90 157.51L597.40 157.26L597.90 157.01L598.40 156.77L598.90 156.52L599.40 156.28L599.90 156.03L600.40 155.78L600.90 155.54L601.40 155.30L601.90 155.05L602.40 154.81L602.90 154.56L603.40 154.32L603.90 154.08L604.40 153.83L604.90 153.59L605.40 153.35L605.90 153.10L606.40 152.86L606.90 152.62L607.40 152.38L607.90 152.14L608.40 151.89L608.90 151.65L609.40 151.41L609.90 151.17L610.40 150.93L610.90 150.69L611.40 150.45L611.90 150.21L612.40 149.97L612.90 149.73L613.40 149.49L613.90 149.24L614.40 149.00L614.90 148.76L615.40 148.52L615.90 148.28L616.40 148.04L616.90 147.80L617.40 147.56L617.90 147.33L618.40 147.09L618.90 146.85L619.40 146.61L619.90 146.37L620.40 146.13L620.90 145.89L621.40 145.65L621.50 145.60" stroke="#222" stroke-width="1" fill="none"/>
<circle cx="417.2" cy="258.8" r="3.45" fill="#000"/>
<circle cx="468.2" cy="230.4" r="3.45" fill="#000"/>
<circle cx="519.6" cy="199.5" r="3.45" fill="#000"/>
<circle cx="544.8" cy="182.3" r="3.45" fill="#000"/>
<circle cx="570.3" cy="167.0" r="3.45" fill="#000"/>
<circle cx="585.7" cy="162.6" r="3.45" fill="#000"/>
<circle cx="595.9" cy="158.0" r="3.45" fill="#000"/>
<path d="M417.10 255.70L417.60 255.39L418.10 255.08L418.60 254.77L419.10 254.46L419.60 254.14L420.10 253.83L420.60 253.52L421.10 253.21L421.60 252.90L422.10 252.59L422.60 252.28L423.10 251.96L423.60 251.65L424.10 251.34L424.60 251.03L425.10 250.72L425.60 250.41L426.10 250.09L426.60 249.78L427.10 249.47L427.60 249.16L428.10 248.85L428.60 248.53L429.10 248.22L429.60 247.91L430.10 247.60L430.60 247.29L431.10 246.97L431.60 246.66L432.10 246.35L432.60 246.03L433.10 245.72L433.60 245.41L434.10 245.09L434.60 244.78L435.10 244.47L435.60 244.15L436.10 243.84L436.60 243.53L437.10 243.21L437.60 242.90L438.10 242.58L438.60 242.27L439.10 241.95L439.60 241.64L440.10 241.32L440.60 241.01L441.10 240.69L441.60 240.38L442.10 240.06L442.60 239.74L443.10 239.43L443.60 239.11L444.10 238.79L444.60 238.48L445.10 238.16L445.60 237.84L446.10 237.52L446.60 237.21L447.10 236.89L447.60 236.57L448.10 236.25L448.60 235.93L449.10 235.61L449.60 235.29L450.10 234.97L450.60 234.65L451.10 234.33L451.60 234.01L452.10 233.69L452.60 233.37L453.10 233.05L453.60 232.73L454.10 232.41L454.60 232.09L455.10 231.76L455.60 231.44L456.10 231.12L456.60 230.79L457.10 230.47L457.60 230.15L458.10 229.82L458.60 229.50L459.10 229.17L459.60 228.85L460.10 228.52L460.60 228.20L461.10 227.87L461.60 227.54L462.10 227.22L462.60 226.89L463.10 226.56L463.60 226.23L464.10 225.91L464.60 225.58L465.10 225.25L465.60 224.92L466.10 224.59L466.60 224.26L467.10 223.93L467.60 223.60L468.10 223.27L468.20 223.20L468.70 222.87L469.20 222.54L469.70 222.20L470.20 221.87L470.70 221.54L471.20 221.20L471.70 220.87L472.20 220.53L472.70 220.20L473.20 219.87L473.70 219.53L474.20 219.19L474.70 218.86L475.20 218.52L475.70 218.19L476.20 217.85L476.70 217.51L477.20 217.18L477.70 216.84L478.20 216.50L478.70 216.16L479.20 215.83L479.70 215.49L480.20 215.15L480.70 214.81L481.20 214.47L481.70 214.13L482.20 213.79L482.70 213.46L483.20 213.12L483.70 212.78L484.20 212.44L484.70 212.10L485.20 211.76L485.70 211.42L486.20 211.08L486.70 210.74L487.20 210.40L487.70 210.06L488.20 209.72L488.70 209.38L489.20 209.04L489.70 208.70L490.20 208.37L490.70 208.03L491.20 207.69L491.70 207.35L492.20 207.01L492.70 206.67L493.20 206.33L493.70 205.99L494.20 205.65L494.70 205.31L495.20 204.98L495.70 204.64L496.20 204.30L496.70 203.96L497.20 203.62L497.70 203.29L498.20 202.95L498.70 202.61L499.20 202.28L499.70 201.94L500.20 201.60L500.70 201.27L501.20 200.93L501.70 200.59L502.20 200.26L502.70 199.92L503.20 199.59L503.70 199.25L504.20 198.92L504.70 198.59L505.20 198.25L505.70 197.92L506.20 197.59L506.70 197.26L507.20 196.92L507.70 196.59L508.20 196.26L508.70 195.93L509.20 195.60L509.70 195.27L510.20 194.94L510.70 194.61L511.20 194.28L511.70 193.96L512.20 193.63L512.70 193.30L513.20 192.97L513.70 192.65L514.20 192.32L514.70 192.00L515.20 191.67L515.70 191.35L516.20 191.03L516.70 190.70L517.20 190.38L517.70 190.06L518.20 189.74L518.70 189.42L519.20 189.10L519.20 189.10L519.70 188.78L520.20 188.46L520.70 188.15L521.20 187.83L521.70 187.51L522.20 187.20L522.70 186.88L523.20 186.57L523.70 186.25L524.20 185.94L524.70 185.63L525.20 185.32L525.70 185.01L526.20 184.70L526.70 184.39L527.20 184.08L527.70 183.77L528.20 183.47L528.70 183.16L529.20 182.86L529.70 182.55L530.20 182.25L530.70 181.95L531.20 181.64L531.70 181.34L532.20 181.04L532.70 180.74L533.20 180.45L533.70 180.15L534.20 179.85L534.70 179.56L535.20 179.26L535.70 178.97L536.20 178.67L536.70 178.38L537.20 178.09L537.70 177.80L538.20 177.51L538.70 177.22L539.20 176.94L539.70 176.65L540.20 176.37L540.70 176.08L541.20 175.80L541.70 175.52L542.20 175.24L542.70 174.96L543.20 174.68L543.70 174.40L544.20 174.12L544.70 173.85L545.20 173.57L545.70 173.30L546.20 173.03L546.70 172.75L547.20 172.48L547.70 172.21L548.20 171.95L548.70 171.68L549.20 171.41L549.70 171.15L550.20 170.89L550.70 170.62L551.20 170.36L551.70 170.10L552.20 169.84L552.70 169.59L553.20 169.33L553.70 169.08L554.20 168.82L554.70 168.57L555.20 168.32L555.70 168.07L556.20 167.82L556.70 167.57L557.20 167.33L557.70 167.08L558.20 166.84L558.70 166.60L559.20 166.36L559.70 166.12L560.20 165.88L560.70 165.64L561.20 165.41L561.70 165.17L562.20 164.94L562.70 164.71L563.20 164.48L563.70 164.25L564.20 164.02L564.70 163.80L565.20 163.57L565.70 163.35L566.20 163.13L566.70 162.91L567.20 162.69L567.70 162.47L568.20 162.26L568.70 162.04L569.20 161.83L569.70 161.62L570.20 161.41L570.70 161.20L571.20 160.99L571.70 160.79L572.20 160.58L572.70 160.38L573.20 160.18L573.70 159.98L574.20 159.79L574.70 159.59L575.20 159.39L575.70 159.20L576.20 159.01L576.70 158.82L577.20 158.63L577.70 158.44L578.20 158.25L578.70 158.07L579.20 157.88L579.70 157.70L580.20 157.52L580.70 157.34L581.20 157.16L581.70 156.98L582.20 156.81L582.70 156.63L583.20 156.46L583.70 156.28L584.20 156.11L584.70 155.94L585.20 155.77L585.70 155.60L586.20 155.43L586.70 155.27L587.20 155.10L587.70 154.94L588.20 154.77L588.70 154.61L589.20 154.45L589.70 154.29L590.20 154.13L590.70 153.97L591.20 153.81L591.70 153.66L592.20 153.50L592.70 153.35L593.20 153.19L593.70 153.04L594.20 152.89L594.70 152.73L595.20 152.58L595.70 152.43L596.20 152.28L596.70 152.13L597.20 151.99L597.70 151.84L598.20 151.69L598.70 151.55L599.20 151.40L599.70 151.26L600.20 151.12L600.70 150.97L601.20 150.83L601.70 150.69L602.20 150.55L602.70 150.41L603.20 150.27L603.70 150.13L604.20 149.99L604.70 149.85L605.20 149.71L605.70 149.57L606.20 149.44L606.70 149.30L607.20 149.17L607.70 149.03L608.20 148.89L608.70 148.76L609.20 148.63L609.70 148.49L610.20 148.36L610.70 148.22L611.20 148.09L611.70 147.96L612.20 147.83L612.70 147.69L613.20 147.56L613.70 147.43L614.20 147.30L614.70 147.17L615.20 147.04L615.70 146.91L616.20 146.78L616.70 146.65L617.20 146.52L617.70 146.39L618.20 146.26L618.70 146.13L619.20 146.00L619.70 145.87L620.20 145.74L620.70 145.61L621.20 145.48L621.50 145.40" stroke="#222" stroke-width="1" fill="none"/>
<path d="M417.10 251.80L421.00 255.70L417.10 259.60L413.20 255.70Z" fill="#fff" stroke="#222" stroke-width="0.9"/>
<path d="M468.20 219.30L472.10 223.20L468.20 227.10L464.30 223.20Z" fill="#fff" stroke="#222" stroke-width="0.9"/>
<path d="M519.20 185.20L523.10 189.10L519.20 193.00L515.30 189.10Z" fill="#fff" stroke="#222" stroke-width="0.9"/>
<path d="M570.70 157.30L574.60 161.20L570.70 165.10L566.80 161.20Z" fill="#fff" stroke="#222" stroke-width="0.9"/>
<path d="M621.50 141.50L625.40 145.40L621.50 149.30L617.60 145.40Z" fill="#fff" stroke="#222" stroke-width="0.9"/>
<text x="191.3" y="330.6" text-anchor="middle" font-family="Liberation Serif" font-weight="bold" font-style="italic" font-size="15" fill="#000">&#966;</text>
<text x="522.6" y="333.6" text-anchor="middle" font-family="Liberation Serif" font-weight="bold" font-style="italic" font-size="15" fill="#000">&#966;</text>
<g transform="translate(17,207) rotate(-90)" font-family="Liberation Serif" fill="#000"><text x="0" y="0" font-weight="bold" font-style="italic" font-size="16">T</text><text x="9.2" y="-9" font-size="10" fill="#222">*</text></g>
<g transform="translate(352.5,208.5) rotate(-90)" font-family="Liberation Serif" fill="#000"><text x="0" y="0" font-weight="bold" font-style="italic" font-size="15">&#916;</text><text x="9" y="0" font-weight="bold" font-style="italic" font-size="15">P</text><text x="19" y="-8" font-size="9">*</text><text x="18.5" y="7.5" font-weight="bold" font-style="italic" font-size="8.5">0</text></g>
<text x="90.6" y="358.8" font-family="Liberation Serif" font-size="17.7" fill="#111">(a)</text>
<text x="118.2" y="358.8" font-family="Liberation Serif" font-size="17.7" fill="#111">Non-dimensional torque</text>
<text x="387.6" y="357.7" font-family="Liberation Serif" font-size="17.7" fill="#111">(b)</text>
<text x="415.1" y="357.7" font-family="Liberation Serif" font-size="17.7" fill="#111">Non-dimensional pressure drop</text>
</svg>
</body></html>
